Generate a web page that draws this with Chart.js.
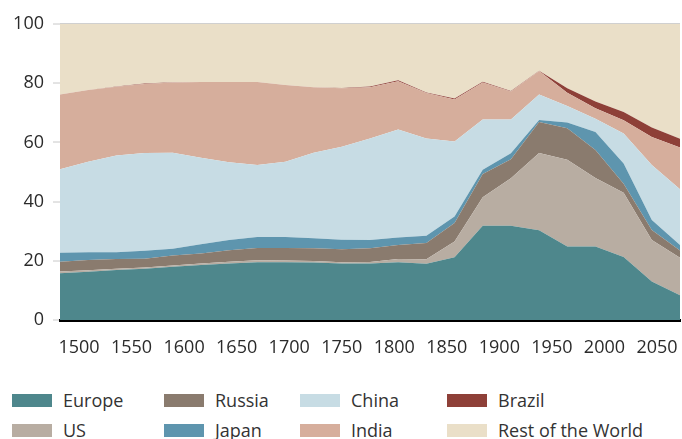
<!DOCTYPE html>
<html>
<head>
<meta charset="utf-8">
<script src="https://cdn.jsdelivr.net/npm/chart.js@4.4.0/dist/chart.umd.min.js"></script>
<style>
  body { margin: 0; background: #fff; font-family: 'Open Sans', sans-serif; }
  #wrap { position: relative; width: 682px; height: 375px; }
  #legend {
    position: absolute; left: 12px; top: 385px;
    display: grid; grid-auto-flow: column;
    grid-template-rows: 30px 30px;
    grid-template-columns: 152px 136px 147px auto;
  }
  .item { display: flex; align-items: center; font-size: 18px; color: #333; white-space: nowrap; }
  .swatch { width: 40px; height: 13px; margin-right: 11px; flex: none; }
</style>
</head>
<body>
<div id="wrap"><canvas id="shareChart"></canvas></div>
<div id="legend"></div>
<script>
// Share of world GDP (%), 1500-2050, every 25 years
const years = [1500, 1525, 1550, 1575, 1600, 1625, 1650, 1675, 1700, 1725, 1750, 1775,
               1800, 1825, 1850, 1875, 1900, 1925, 1950, 1975, 2000, 2025, 2050];
const seriesNames = ['Europe', 'US', 'Russia', 'Japan', 'China', 'India', 'Brazil', 'Rest of the World'];
const seriesColors = ['#4e878c', '#b8ada2', '#8a7b6e', '#5e95ae', '#c7dce4', '#d6ae9c', '#8e4038', '#eadfc8'];

const europe = [15.8, 16.3, 16.9, 17.3, 18.0, 18.6, 19.1, 19.5, 19.5, 19.4, 19.1, 19.1,
                19.5, 19.0, 21.2, 31.8, 31.8, 30.3, 24.8, 24.8, 21.3, 13.0, 8.4];
const us     = [0.6, 0.5, 0.4, 0.4, 0.4, 0.5, 0.6, 0.7, 0.6, 0.5, 0.4, 0.5,
                1.1, 1.5, 5.3, 9.7, 16.1, 26.1, 29.3, 23.2, 21.7, 14.0, 12.6];
const russia = [3.3, 3.5, 3.3, 3.0, 3.4, 3.4, 3.9, 4.1, 4.2, 4.3, 4.4, 4.6,
                4.7, 5.5, 6.3, 7.8, 6.4, 10.5, 10.7, 9.4, 3.0, 3.4, 2.5];
const japan  = [3.0, 2.6, 2.3, 2.7, 2.3, 3.1, 3.4, 3.7, 3.7, 3.4, 3.2, 2.8,
                2.6, 2.5, 2.2, 1.5, 2.0, 0.7, 1.9, 6.1, 6.9, 3.4, 1.8];
const china  = [28.2, 30.6, 32.7, 33.0, 32.4, 29.2, 26.3, 24.4, 25.5, 28.9, 31.4, 34.3,
                36.5, 32.8, 25.3, 16.9, 11.4, 8.6, 5.6, 4.5, 10.1, 18.6, 18.9];
const india  = [25.3, 24.2, 23.2, 23.3, 23.7, 25.6, 27.1, 28.0, 25.9, 22.1, 19.8, 17.3,
                16.3, 15.4, 14.2, 12.5, 9.5, 7.9, 4.5, 3.5, 4.5, 9.4, 14.1];
const brazil = [0.0, 0.0, 0.1, 0.2, 0.1, 0.0, 0.0, 0.0, 0.0, 0.0, 0.1, 0.3,
                0.3, 0.2, 0.3, 0.3, 0.2, 0.1, 1.5, 2.3, 2.8, 3.2, 2.9];
const rest   = [23.8, 22.3, 21.1, 20.1, 19.7, 19.6, 19.6, 19.6, 20.6, 21.4, 21.6, 21.1,
                19.0, 23.1, 25.2, 19.5, 22.6, 15.9, 21.7, 26.2, 29.7, 35.0, 38.8];

const yTicks = [0, 20, 40, 60, 80, 100];
const tickYears = [1500, 1550, 1600, 1650, 1700, 1750, 1800, 1850, 1900, 1950, 2000, 2050];

const values = [europe, us, russia, japan, china, india, brazil, rest];

const datasets = seriesNames.map((name, i) => ({
    label: name,
    data: values[i],
    backgroundColor: seriesColors[i],
    borderColor: seriesColors[i],
    borderWidth: 0,
    pointRadius: 0,
    fill: i === 0 ? 'origin' : '-1',
    tension: 0
}));

new Chart(document.getElementById('shareChart'), {
    type: 'line',
    data: { labels: years, datasets: datasets },
    options: {
        responsive: true,
        maintainAspectRatio: false,
        animation: false,
        layout: { padding: { top: 24, right: 2, left: 0, bottom: 0 } },
        plugins: { legend: { display: false }, tooltip: { enabled: false } },
        scales: {
            x: { type: 'category', display: false, offset: false },
            xLabels: {
                type: 'linear',
                position: 'bottom',
                min: 1481.9,
                max: 2071.9,
                afterBuildTicks: (scale) => { scale.ticks = tickYears.map(v => ({ value: v })); },
                afterFit: (scale) => {
                    scale.height = 55;
                    scale.paddingLeft = 0;
                    scale.paddingRight = 0;
                },
                grid: { display: false, drawTicks: false },
                border: { display: true, color: '#000', width: 3 },
                ticks: {
                    padding: 17,
                    autoSkip: false,
                    maxRotation: 0,
                    color: '#2b2b2b',
                    font: { family: "'Open Sans', sans-serif", size: 18 },
                    callback: (v) => String(v)
                }
            },
            y: {
                stacked: true,
                min: 0,
                max: 100,
                afterBuildTicks: (scale) => { scale.ticks = yTicks.map(v => ({ value: v })); },
                afterFit: (scale) => {
                    scale.width = 60;
                    scale.paddingTop = 0;
                    scale.paddingBottom = 0;
                },
                border: { display: false },
                grid: {
                    color: (ctx) => ctx.tick && ctx.tick.value === 100 ? '#d0d0d0' : 'rgba(0,0,0,0)',
                    lineWidth: 2,
                    tickColor: '#c8c8c8',
                    tickLength: 7,
                    tickWidth: 1
                },
                ticks: {
                    padding: 9,
                    color: '#2b2b2b',
                    font: { family: "'Open Sans', sans-serif", size: 18 }
                }
            }
        }
    }
});

// legend as an HTML grid, built from the same names and colours
const legendEl = document.getElementById('legend');
seriesNames.forEach((name, i) => {
    const item = document.createElement('div');
    item.className = 'item';
    item.innerHTML = '<span class="swatch" style="background:' + seriesColors[i] + '"></span>' + name;
    legendEl.appendChild(item);
});
</script>
</body>
</html>
